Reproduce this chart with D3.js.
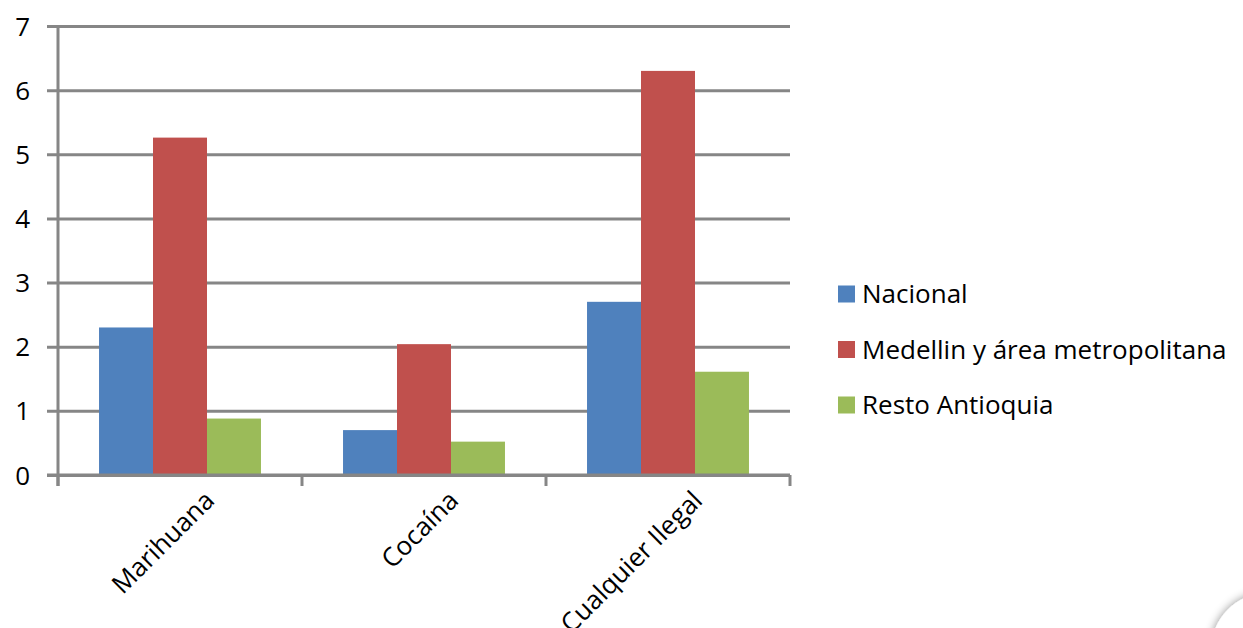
<!DOCTYPE html>
<html>
<head>
<meta charset="utf-8">
<script src="https://cdn.jsdelivr.net/npm/d3@7"></script>
<style>
  body { margin: 0; background: #fff; }
</style>
</head>
<body>
<div id="chart"></div>
<script>

// data
var categories = ["Marihuana", "Cocaína", "Cualquier Ilegal"];
var seriesNames = ["Nacional", "Medellin y área metropolitana", "Resto Antioquia"];
var nacional = [2.3, 0.7, 2.7];
var medellin = [5.26, 2.04, 6.3];
var resto = [0.88, 0.52, 1.61];
var yTicks = [0, 1, 2, 3, 4, 5, 6, 7];

var drawChart = function(){

    // settings
    var fontFamily = "'Open Sans', sans-serif";
    var fontSize = 26;
    var colors = ["#4f81bd", "#c0504d", "#9bbb59"];
    var gridColor = "#868686";

    const width = 1243, height = 628;
    const left = 58, right = 790, top = 26, bottom = 475;

    var values = [nacional, medellin, resto];

    var svg = d3.select("#chart").append("svg")
        .attr("width", width)
        .attr("height", height)
        .style("background-color", "#fff");

    var y = d3.scaleLinear().domain([0, 7]).range([bottom, top]);
    var x0 = d3.scaleBand().domain(categories).range([left, right]);
    var x1 = d3.scaleBand().domain(seriesNames)
        .range([0, x0.bandwidth()])
        .paddingOuter(0.76);

    // gridlines + y labels
    var yAxis = svg.append("g")
        .attr("transform", "translate(" + (left - 11) + ",0)")
        .call(d3.axisLeft(y).tickValues(yTicks).tickFormat(d3.format("d"))
            .tickSize(-(right - left + 11)).tickPadding(17));
    yAxis.select(".domain").remove();
    yAxis.selectAll(".tick line")
        .attr("stroke", gridColor)
        .attr("stroke-width", 3);
    yAxis.selectAll(".tick text")
        .attr("fill", "#000")
        .attr("font-family", fontFamily)
        .attr("font-size", fontSize)
        .attr("dy", "0.35em");

    // bars
    var groups = svg.append("g").selectAll("g")
        .data(categories)
        .join("g")
        .attr("transform", d => "translate(" + x0(d) + ",0)");

    groups.selectAll("rect")
        .data((c, ci) => seriesNames.map((s, si) => ({s: s, si: si, v: values[si][ci]})))
        .join("rect")
        .attr("x", d => x1(d.s))
        .attr("width", x1.bandwidth())
        .attr("y", d => y(d.v))
        .attr("height", d => y(0) - y(d.v))
        .attr("fill", d => colors[d.si]);

    // axis lines
    svg.append("line")
        .attr("x1", left).attr("x2", left)
        .attr("y1", y(7)).attr("y2", bottom + 11)
        .attr("stroke", gridColor).attr("stroke-width", 3);
    svg.append("line")
        .attr("x1", left - 11).attr("x2", right)
        .attr("y1", y(0)).attr("y2", y(0))
        .attr("stroke", gridColor).attr("stroke-width", 3);

    var bounds = categories.map(c => x0(c)).concat([x0.range()[1]]);
    svg.append("g").selectAll("line")
        .data(bounds)
        .join("line")
        .attr("x1", d => d).attr("x2", d => d)
        .attr("y1", bottom).attr("y2", bottom + 11)
        .attr("stroke", gridColor).attr("stroke-width", 3);

    // rotated category labels
    svg.append("g").selectAll("text")
        .data(categories)
        .join("text")
        .text(d => d)
        .attr("text-anchor", "end")
        .attr("font-family", fontFamily)
        .attr("font-size", fontSize)
        .attr("fill", "#000")
        .attr("transform", d => "translate(" + (x0(d) + x0.bandwidth() / 2 + 36) + "," + (bottom + 27) + ") rotate(-45)");

    // legend
    var legend = svg.append("g").selectAll("g")
        .data(seriesNames)
        .join("g")
        .attr("transform", (d, i) => "translate(838," + (294 + i * 55.5) + ")");
    legend.append("rect")
        .attr("x", 0).attr("y", -8.5)
        .attr("width", 17).attr("height", 17)
        .attr("fill", (d, i) => colors[i]);
    legend.append("text")
        .attr("x", 24)
        .attr("dy", "0.35em")
        .attr("font-family", fontFamily)
        .attr("font-size", fontSize)
        .attr("fill", "#000")
        .text(d => d);

    // page curl corner in the bottom right
    var defs = svg.append("defs");
    var f = defs.append("filter").attr("id", "shadow")
        .attr("x", "-50%").attr("y", "-50%").attr("width", "200%").attr("height", "200%");
    f.append("feDropShadow")
        .attr("dx", 0).attr("dy", 0)
        .attr("stdDeviation", 5)
        .attr("flood-color", "#000")
        .attr("flood-opacity", 0.45);
    svg.append("circle")
        .attr("cx", 1268).attr("cy", 650)
        .attr("r", 57)
        .attr("fill", "#fff")
        .attr("filter", "url(#shadow)");
}

window.addEventListener("load", drawChart)
</script>
</body>
</html>
